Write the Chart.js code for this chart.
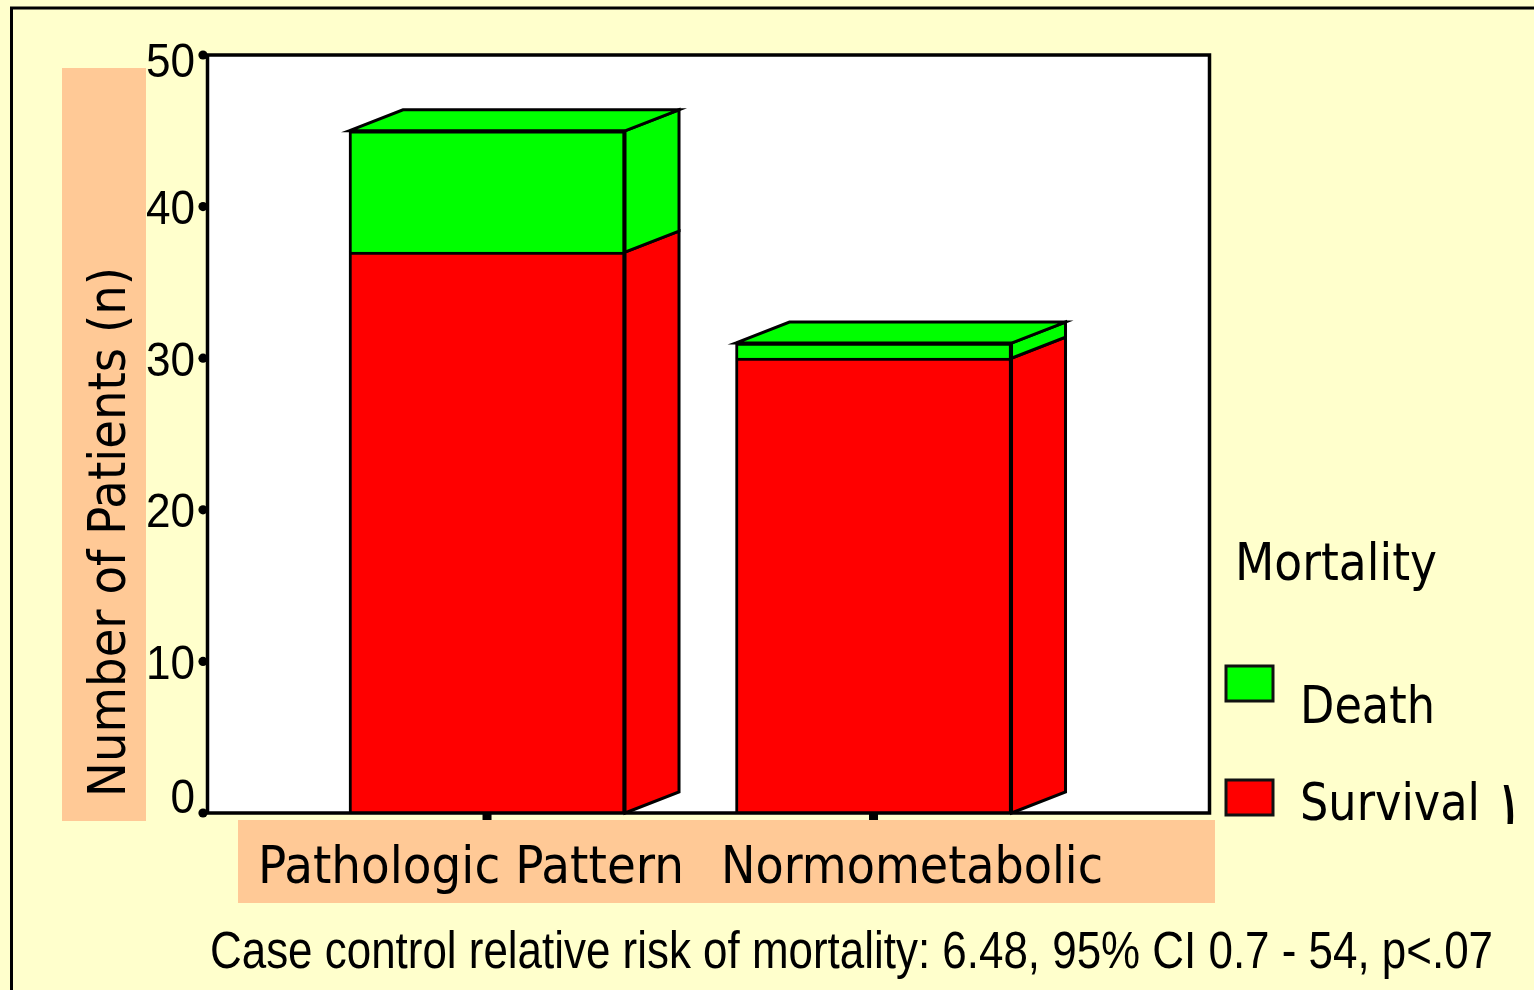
<!DOCTYPE html>
<html>
<head>
<meta charset="utf-8">
<title>Mortality by metabolic pattern</title>
<script src="https://cdn.jsdelivr.net/npm/chart.js@4/dist/chart.umd.min.js"></script>
<style>
  html, body { margin: 0; padding: 0; background: #FFFFCC; overflow: hidden; }
  canvas { display: block; }
</style>
</head>
<body>
<canvas id="chart" width="1534" height="990"></canvas>
<script>
// ---- data ----
const categories = ['Pathologic Pattern', 'Normometabolic'];
const survival = [37, 30];
const death = [8, 1];
const yTicks = [0, 10, 20, 30, 40, 50];
const legendTitle = 'Mortality';
const yTitle = 'Number of Patients (n)';
const footnote = 'Case control relative risk of mortality: 6.48, 95% CI 0.7 - 54, p<.07';

// ---- styling ----
const PAGE_BG = '#FFFFCC';
const PEACH = '#FFC996';
const RED = '#FF0000';
const GREEN = '#00FF00';
const DEPTH_X = 54, DEPTH_Y = -21;
const LABEL_FONT = '52px "DejaVu Sans", Verdana, sans-serif';
const NUM_FONT = '49px "Liberation Sans", Arial, sans-serif';
const NOTE_FONT = '51px "Liberation Sans", Arial, sans-serif';

// draw a string squeezed/stretched horizontally to a given width
function fitText(ctx, text, x, y, width, font, angle) {
  ctx.save();
  ctx.font = font;
  const w = ctx.measureText(text).width;
  ctx.translate(x, y);
  if (angle) ctx.rotate(angle);
  ctx.scale(width / w, 1);
  ctx.textAlign = 'left';
  ctx.textBaseline = 'alphabetic';
  ctx.fillStyle = '#000';
  ctx.fillText(text, 0, 0);
  ctx.restore();
}

// page background, frame, label panels and white plot area
const backdrop = {
  id: 'backdrop',
  beforeDraw(chart) {
    const { ctx, chartArea: a } = chart;
    ctx.save();
    ctx.fillStyle = PAGE_BG;
    ctx.fillRect(0, 0, chart.width, chart.height);
    // outer frame
    ctx.strokeStyle = '#000';
    ctx.lineWidth = 3;
    ctx.beginPath();
    ctx.moveTo(11.5, chart.height + 5);
    ctx.lineTo(11.5, 8);
    ctx.lineTo(chart.width + 5, 8);
    ctx.stroke();
    // peach panels behind the axis texts
    ctx.fillStyle = PEACH;
    ctx.fillRect(62, 68, 84, 753);
    ctx.fillRect(238, 820, 977, 83);
    // plot area
    ctx.fillStyle = '#FFFFFF';
    ctx.fillRect(a.left, a.top, a.right - a.left, a.bottom - a.top);
    ctx.restore();
  }
};

// side and top faces giving the bars depth
const depth = {
  id: 'depth',
  afterDatasetsDraw(chart) {
    const { ctx } = chart;
    ctx.save();
    ctx.strokeStyle = '#000';
    ctx.lineWidth = 3;
    ctx.lineJoin = 'miter';
    const metas = chart.data.datasets.map((d, i) => chart.getDatasetMeta(i));
    metas.forEach((meta, di) => {
      const color = chart.data.datasets[di].backgroundColor;
      meta.data.forEach(el => {
        const p = el.getProps(['x', 'y', 'base', 'width'], true);
        const right = p.x + p.width / 2;
        const top = Math.min(p.y, p.base), bottom = Math.max(p.y, p.base);
        ctx.beginPath();
        ctx.moveTo(right, top);
        ctx.lineTo(right + DEPTH_X, top + DEPTH_Y);
        ctx.lineTo(right + DEPTH_X, bottom + DEPTH_Y);
        ctx.lineTo(right, bottom);
        ctx.closePath();
        ctx.fillStyle = color;
        ctx.fill();
        ctx.stroke();
      });
    });
    // top faces on the highest segment of each stack
    const topMeta = metas[metas.length - 1];
    const topColor = chart.data.datasets[metas.length - 1].backgroundColor;
    topMeta.data.forEach(el => {
      const p = el.getProps(['x', 'y', 'base', 'width'], true);
      const left = p.x - p.width / 2, right = p.x + p.width / 2;
      const top = Math.min(p.y, p.base);
      ctx.beginPath();
      ctx.moveTo(left, top);
      ctx.lineTo(left + DEPTH_X, top + DEPTH_Y);
      ctx.lineTo(right + DEPTH_X, top + DEPTH_Y);
      ctx.lineTo(right, top);
      ctx.closePath();
      ctx.fillStyle = topColor;
      ctx.fill();
      ctx.stroke();
    });
    ctx.restore();
  }
};

// axes, tick marks, labels, legend and footnote
const annotations = {
  id: 'annotations',
  afterDraw(chart) {
    const { ctx, chartArea: a, scales } = chart;
    const ys = scales.y, xs = scales.x;
    ctx.save();
    // plot frame
    ctx.strokeStyle = '#000';
    ctx.lineWidth = 3.5;
    ctx.strokeRect(a.left + 0.5, a.top, a.right - a.left, a.bottom - a.top);

    // y ticks: round dots and numbers
    yTicks.forEach(v => {
      const py = ys.getPixelForValue(v);
      ctx.fillStyle = '#000';
      ctx.beginPath();
      ctx.arc(203, py, 4.6, 0, Math.PI * 2);
      ctx.fill();
      ctx.fillRect(203, py - 1.5, a.left - 203, 3);
      let base = py + 17.5;
      if (base > a.bottom) base = a.bottom;
      if (base < a.top + 22) base = a.top + 22;
      ctx.font = NUM_FONT;
      const label = String(v);
      const w = ctx.measureText(label).width * 0.9;
      fitText(ctx, label, 195 - w, base, w, NUM_FONT);
    });

    // x ticks and category names
    const labelSpots = [
      { x: 258, w: 426 },
      { x: 721, w: 382 }
    ];
    categories.forEach((c, i) => {
      const px = xs.getPixelForValue(i);
      ctx.fillStyle = '#000';
      ctx.fillRect(px - 4.5, a.bottom, 9, 7);
      fitText(ctx, c, labelSpots[i].x, 883, labelSpots[i].w, LABEL_FONT);
    });

    // y axis title
    fitText(ctx, yTitle, 125, 797, 530, LABEL_FONT, -Math.PI / 2);

    // legend
    fitText(ctx, legendTitle, 1235, 580, 202, LABEL_FONT);
    const ds = chart.data.datasets;
    const entries = [
      { d: ds[1], boxY: 666, textY: 723, w: 135 },
      { d: ds[0], boxY: 780, textY: 820, w: 180 }
    ];
    entries.forEach(e => {
      ctx.fillStyle = e.d.backgroundColor;
      ctx.fillRect(1226, e.boxY, 47, 35);
      ctx.strokeStyle = '#111';
      ctx.lineWidth = 3;
      ctx.strokeRect(1226, e.boxY, 47, 35);
      fitText(ctx, e.d.label, 1300, e.textY, e.w, LABEL_FONT);
    });
    ctx.save();
    ctx.beginPath();
    ctx.rect(1495, 785, 30, 39);
    ctx.clip();
    fitText(ctx, ')', 1501, 838, 15, 'bold 70px "DejaVu Sans", sans-serif');
    ctx.restore();

    // footnote
    fitText(ctx, footnote, 210, 968, 1283, NOTE_FONT);
    ctx.restore();
  }
};

const toPoints = arr => arr.map((v, i) => ({ x: i, y: v }));

new Chart(document.getElementById('chart'), {
  type: 'bar',
  data: {
    labels: categories,
    datasets: [
      {
        label: 'Survival',
        data: toPoints(survival),
        backgroundColor: RED,
        borderColor: '#000',
        borderWidth: 3,
        borderSkipped: 'start',
        barThickness: 276
      },
      {
        label: 'Death',
        data: toPoints(death),
        backgroundColor: GREEN,
        borderColor: '#000',
        borderWidth: 3,
        borderSkipped: 'start',
        barThickness: 276
      }
    ]
  },
  options: {
    responsive: false,
    devicePixelRatio: 1,
    animation: false,
    layout: { padding: { left: 207, top: 55, right: 325, bottom: 177 } },
    plugins: {
      legend: { display: false },
      tooltip: { enabled: false },
      title: { display: false }
    },
    scales: {
      x: {
        type: 'linear', min: -0.7245, max: 1.868, stacked: true, display: false,
        offset: false, grid: { offset: false }
      },
      y: { type: 'linear', min: 0, max: 50, stacked: true, display: false }
    }
  },
  plugins: [backdrop, depth, annotations]
});
</script>
</body>
</html>
